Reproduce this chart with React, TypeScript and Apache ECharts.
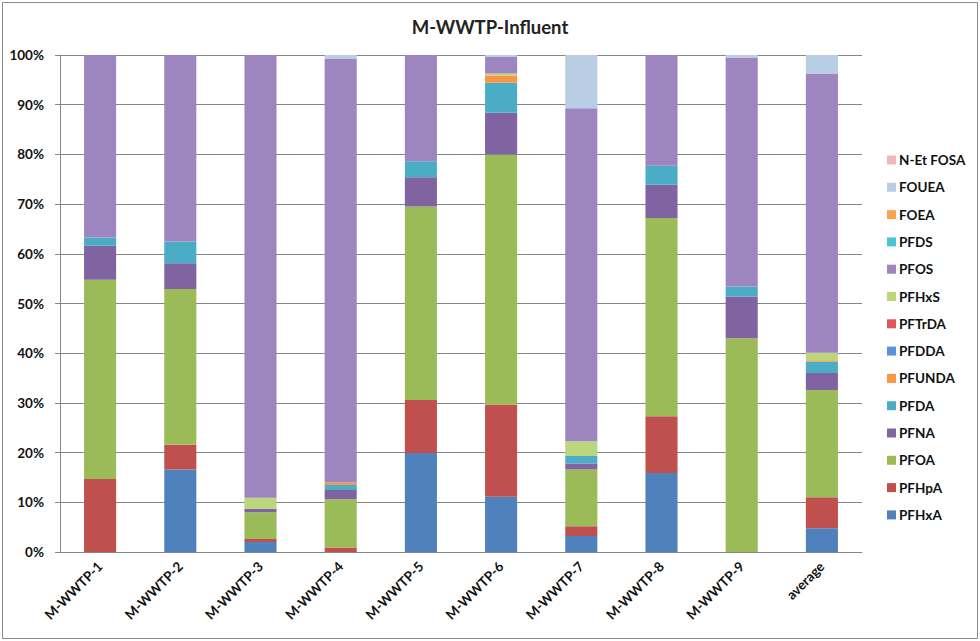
import React, { useEffect, useRef } from "react";
import * as echarts from "echarts";

const categories = ["M-WWTP-1", "M-WWTP-2", "M-WWTP-3", "M-WWTP-4", "M-WWTP-5", "M-WWTP-6", "M-WWTP-7", "M-WWTP-8", "M-WWTP-9", "average"];

const seriesNames = ["PFHxA", "PFHpA", "PFOA", "PFNA", "PFDA", "PFUNDA", "PFDDA", "PFTrDA", "PFHxS", "PFOS", "PFDS", "FOEA", "FOUEA", "N-Et FOSA"];

const PFHxA = [0, 16.6, 2.0, 0, 19.9, 11.1, 3.2, 15.9, 0, 4.8];
const PFHpA = [14.7, 5.0, 0.6, 0.9, 10.7, 18.6, 2.0, 11.4, 0, 6.2];
const PFOA = [40.1, 31.3, 5.4, 9.7, 38.9, 50.3, 11.4, 39.9, 43.0, 21.6];
const PFNA = [6.8, 5.2, 0.7, 1.9, 5.9, 8.4, 1.2, 6.7, 8.4, 3.4];
const PFDA = [1.7, 4.4, 0, 1.0, 3.2, 6.0, 1.5, 3.8, 2.0, 2.3];
const PFUNDA = [0, 0, 0, 0.5, 0, 1.5, 0, 0, 0, 0.3];
const PFDDA = [0, 0, 0, 0, 0, 0, 0, 0, 0, 0];
const PFTrDA = [0, 0, 0, 0, 0, 0, 0, 0, 0, 0];
const PFHxS = [0, 0, 2.2, 0, 0, 0.4, 3.0, 0, 0, 1.5];
const PFOS = [36.7, 37.5, 89.1, 85.3, 21.4, 3.3, 67.0, 22.3, 46.1, 56.2];
const PFDS = [0, 0, 0, 0, 0, 0, 0, 0, 0, 0];
const FOEA = [0, 0, 0, 0, 0, 0, 0, 0, 0, 0];
const FOUEA = [0, 0, 0, 0.7, 0, 0.4, 10.7, 0, 0.5, 3.7];
const NEtFOSA = [0, 0, 0, 0, 0, 0, 0, 0, 0, 0];

const seriesData = [PFHxA, PFHpA, PFOA, PFNA, PFDA, PFUNDA, PFDDA, PFTrDA, PFHxS, PFOS, PFDS, FOEA, FOUEA, NEtFOSA];

const colors = ["#4F81BD", "#C0504D", "#9BBB59", "#8064A2", "#4BACC6", "#F79646", "#5B93D8", "#E0565A", "#BBD67D", "#9D85C0", "#4BC4D6", "#F9A54E", "#B9CDE5", "#F0B8BC"];

const yTicks = [0, 100, 10];

const FONT = "Lato, 'Liberation Sans', sans-serif";

export default function App() {
  const ref = useRef<HTMLDivElement>(null);
  useEffect(() => {
    document.body.style.margin = "0";
    const chart = echarts.init(ref.current!, null, { renderer: "svg" });
    chart.setOption({
      animation: false,
      backgroundColor: "#ffffff",
      color: colors,
      textStyle: { fontFamily: FONT },
      title: {
        text: "M-WWTP-Influent",
        left: "center",
        top: 12,
        textStyle: { fontSize: 18.5, fontWeight: "bold", color: "#222", fontFamily: FONT },
      },
      graphic: [
        {
          type: "rect",
          shape: { x: 2.5, y: 2.5, width: 975, height: 636 },
          style: { fill: "none", stroke: "#8a8a8a", lineWidth: 1 },
          silent: true,
        },
      ],
      legend: {
        orient: "vertical",
        left: 882,
        top: 148,
        itemWidth: 9,
        itemHeight: 9,
        itemGap: 13.3,
        icon: "rect",
        data: seriesNames.slice().reverse(),
        textStyle: { fontSize: 13.5, fontWeight: "bold", color: "#111", fontFamily: FONT, padding: [0, 0, 0, -2] },
      },
      grid: { left: 60, right: 118, top: 55, bottom: 89, containLabel: false },
      xAxis: {
        type: "category",
        data: categories,
        axisLine: { lineStyle: { color: "#868686" } },
        axisTick: { show: false },
        axisLabel: { rotate: 45, fontSize: 13.5, fontWeight: "bold", color: "#111", margin: 12, interval: 0, fontFamily: FONT },
      },
      yAxis: {
        type: "value",
        min: yTicks[0],
        max: yTicks[1],
        interval: yTicks[2],
        axisLine: { show: true, lineStyle: { color: "#868686" } },
        axisTick: { show: true, length: 5, lineStyle: { color: "#868686" } },
        splitLine: { lineStyle: { color: "#868686" } },
        axisLabel: { formatter: "{value}%", fontSize: 13.5, fontWeight: "bold", color: "#111", margin: 16, fontFamily: FONT },
      },
      series: seriesNames.map((name, i) => ({
        name,
        type: "bar",
        stack: "total",
        barWidth: "40%",
        data: seriesData[i],
        itemStyle: { color: colors[i] },
      })),
    });
    return () => chart.dispose();
  }, []);
  return <div ref={ref} style={{ width: 980, height: 641 }} />;
}
